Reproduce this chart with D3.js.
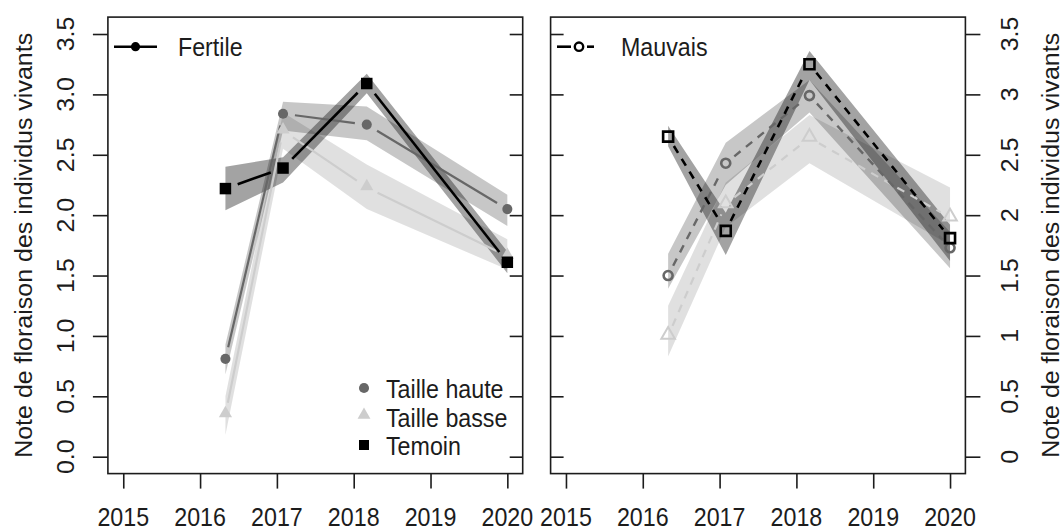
<!DOCTYPE html>
<html><head><meta charset="utf-8">
<script src="https://cdn.jsdelivr.net/npm/d3@7"></script>
<style>
body{margin:0;background:#fff}
svg{display:block}
text{font-family:"Liberation Sans",Arial,sans-serif;fill:#1c1c1c}
</style>
</head><body><svg id="c" width="1064" height="530"></svg>
<script>
// ---------- data ----------
const years = [2015, 2016, 2017, 2018, 2019, 2020];
const sampleDates = [2016.33, 2017.08, 2018.17, 2020.0];
const yTicks = [0, 0.5, 1, 1.5, 2, 2.5, 3, 3.5];
const yTickLabelsLeft = ["0.0", "0.5", "1.0", "1.5", "2.0", "2.5", "3.0", "3.5"];
const yTickLabelsRight = ["0", "0.5", "1", "1.5", "2", "2.5", "3", "3.5"];
const treatments = ["Taille haute", "Taille basse", "Temoin"];
const yTitle = "Note de floraison des individus vivants";

// Fertile panel
const fertileHaute   = [0.81, 2.84, 2.75, 2.05];
const fertileHauteLo = [0.68, 2.70, 2.62, 1.91];
const fertileHauteHi = [0.93, 2.94, 2.90, 2.17];
const fertileBasse   = [0.35, 2.70, 2.23, 1.66];
const fertileBasseLo = [0.18, 2.55, 2.05, 1.55];
const fertileBasseHi = [0.50, 2.85, 2.42, 1.80];
const fertileTemoin   = [2.22, 2.39, 3.09, 1.61];
const fertileTemoinLo = [2.04, 2.27, 3.01, 1.52];
const fertileTemoinHi = [2.40, 2.48, 3.17, 1.70];

// Mauvais panel
const mauvaisHaute   = [1.50, 2.43, 2.99, 1.73];
const mauvaisHauteLo = [1.39, 2.25, 2.85, 1.56];
const mauvaisHauteHi = [1.68, 2.60, 3.12, 1.86];
const mauvaisBasse   = [1.00, 2.09, 2.64, 1.98];
const mauvaisBasseLo = [0.83, 1.90, 2.43, 1.75];
const mauvaisBasseHi = [1.25, 2.27, 2.83, 2.23];
const mauvaisTemoin   = [2.65, 1.87, 3.25, 1.81];
const mauvaisTemoinLo = [2.57, 1.67, 3.12, 1.62];
const mauvaisTemoinHi = [2.74, 2.02, 3.36, 1.92];

// ---------- layout ----------
const svg = d3.select("#c");
const FS = 25, SQ = 0.93;
const plotTop = 17.1, plotBottom = 473.6;
const y = d3.scaleLinear().domain([-0.14, 3.64]).range([plotBottom, plotTop]);
const xL = d3.scaleLinear().domain([2014.8, 2020.2]).range([107.9, 522.7]);
const xR = d3.scaleLinear().domain([2014.8, 2020.2]).range([550.6, 965.4]);

const colHaute = "#676767", colBasse = "#cdcdcd", colTem = "#000";
const bandStyle = {
  haute: {fill: "#000", op: 0.22},
  basse: {fill: "#000", op: 0.12},
  temoin: {fill: "#000", op: 0.36}
};

function txt(g, x, yy, s, anchor, rot) {
  return g.append("text")
    .attr("transform", `translate(${x},${yy}) scale(${SQ},1)` + (rot ? ` rotate(${rot})` : ""))
    .attr("text-anchor", anchor || "start")
    .attr("font-size", FS)
    .text(s);
}

function band(x, lo, hi, st) {
  const data = sampleDates.map((d, i) => ({d, lo: lo[i], hi: hi[i]}));
  svg.append("path")
    .attr("d", d3.area().x(p => x(p.d)).y0(p => y(p.lo)).y1(p => y(p.hi))(data))
    .attr("fill", st.fill).attr("fill-opacity", st.op);
}

function gappedLine(x, vals, color, width, dash, gap) {
  const pts = sampleDates.map((d, i) => [x(d), y(vals[i])]);
  for (let i = 0; i < pts.length - 1; i++) {
    const [x1, y1] = pts[i], [x2, y2] = pts[i + 1];
    const L = Math.hypot(x2 - x1, y2 - y1);
    if (L <= 2 * gap) continue;
    const ux = (x2 - x1) / L, uy = (y2 - y1) / L;
    svg.append("line")
      .attr("x1", x1 + ux * gap).attr("y1", y1 + uy * gap)
      .attr("x2", x2 - ux * gap).attr("y2", y2 - uy * gap)
      .attr("stroke", color).attr("stroke-width", width)
      .attr("stroke-dasharray", dash || null);
  }
}

function markers(x, vals, type, color, open) {
  const sym = {circle: d3.symbolCircle, triangle: d3.symbolTriangle, square: d3.symbolSquare}[type];
  const size = open ? {circle: 64, triangle: 80, square: 100}[type] : {circle: 80, triangle: 75, square: 132}[type];
  sampleDates.forEach((d, i) => {
    const ty = type === "triangle" ? -1 : 0;
    svg.append("path")
      .attr("transform", `translate(${x(d)},${y(vals[i]) + ty})`)
      .attr("d", d3.symbol().type(sym).size(size)())
      .attr("fill", open ? "none" : color)
      .attr("stroke", open ? color : "none")
      .attr("stroke-width", open ? (type === "triangle" ? 2 : 2.6) : 0);
  });
}

// ---------- Fertile panel ----------
band(xL, fertileBasseLo, fertileBasseHi, bandStyle.basse);
band(xL, fertileHauteLo, fertileHauteHi, bandStyle.haute);
band(xL, fertileTemoinLo, fertileTemoinHi, bandStyle.temoin);
gappedLine(xL, fertileBasse, colBasse, 2.2, null, 12);
gappedLine(xL, fertileHaute, colHaute, 2.2, null, 12);
gappedLine(xL, fertileTemoin, colTem, 2.6, null, 13);
markers(xL, fertileBasse, "triangle", colBasse, false);
markers(xL, fertileHaute, "circle", colHaute, false);
markers(xL, fertileTemoin, "square", colTem, false);

// ---------- Mauvais panel ----------
band(xR, mauvaisBasseLo, mauvaisBasseHi, bandStyle.basse);
band(xR, mauvaisHauteLo, mauvaisHauteHi, bandStyle.haute);
band(xR, mauvaisTemoinLo, mauvaisTemoinHi, bandStyle.temoin);
gappedLine(xR, mauvaisBasse, colBasse, 2.2, "8,7", 11);
gappedLine(xR, mauvaisHaute, colHaute, 2.4, "8,7", 11);
gappedLine(xR, mauvaisTemoin, colTem, 2.6, "8,7", 11);
markers(xR, mauvaisBasse, "triangle", colBasse, true);
markers(xR, mauvaisHaute, "circle", colHaute, true);
markers(xR, mauvaisTemoin, "square", colTem, true);

// ---------- boxes & axes ----------
function styleAxis(g) {
  g.select(".domain").remove();
  g.selectAll("line").attr("stroke", "#1c1c1c").attr("stroke-width", 1.6);
  g.selectAll("text").remove();
}
[xL, xR].forEach(x => {
  svg.append("rect")
    .attr("x", x.range()[0]).attr("y", plotTop)
    .attr("width", x.range()[1] - x.range()[0]).attr("height", plotBottom - plotTop)
    .attr("fill", "none").attr("stroke", "#1c1c1c").attr("stroke-width", 1.6);
  svg.append("g").attr("transform", `translate(0,${plotBottom})`)
    .call(d3.axisBottom(x).tickValues(years).tickSize(15).tickFormat(""))
    .call(styleAxis);
  const lab = svg.append("g");
  years.forEach(yr => txt(lab, x(yr), 526, String(yr), "middle"));
});

// Left panel: outer left ticks, inner right ticks
svg.append("g").attr("transform", `translate(${xL.range()[0]},0)`)
  .call(d3.axisLeft(y).tickValues(yTicks).tickSize(15).tickFormat("")).call(styleAxis);
svg.append("g").attr("transform", `translate(${xL.range()[1]},0)`)
  .call(d3.axisLeft(y).tickValues(yTicks).tickSize(13).tickFormat("")).call(styleAxis);
// Right panel: inner left ticks, outer right ticks
svg.append("g").attr("transform", `translate(${xR.range()[0]},0)`)
  .call(d3.axisRight(y).tickValues(yTicks).tickSize(13).tickFormat("")).call(styleAxis);
svg.append("g").attr("transform", `translate(${xR.range()[1]},0)`)
  .call(d3.axisRight(y).tickValues(yTicks).tickSize(15).tickFormat("")).call(styleAxis);

const labs = svg.append("g");
yTicks.forEach((t, i) => {
  txt(labs, 74, y(t), yTickLabelsLeft[i], "middle", -90);
  txt(labs, 1018, y(t), yTickLabelsRight[i], "middle", -90);
});
txt(labs, 32, (plotTop + plotBottom) / 2, yTitle, "middle", -90);
txt(labs, 1059, (plotTop + plotBottom) / 2, yTitle, "middle", -90);

// ---------- legends ----------
const lg = svg.append("g");
lg.append("line").attr("x1", 114).attr("x2", 157).attr("y1", 46.7).attr("y2", 46.7)
  .attr("stroke", "#000").attr("stroke-width", 2.6);
lg.append("circle").attr("cx", 135.5).attr("cy", 46.7).attr("r", 4.6).attr("fill", "#000");
txt(lg, 178, 56, "Fertile");

[[557, 571], [587, 594]].forEach(([a, b]) =>
  lg.append("line").attr("x1", a).attr("x2", b).attr("y1", 46.7).attr("y2", 46.7)
    .attr("stroke", "#000").attr("stroke-width", 2.6));
lg.append("circle").attr("cx", 579).attr("cy", 46.7).attr("r", 4.2)
  .attr("fill", "#fff").attr("stroke", "#000").attr("stroke-width", 2.4);
txt(lg, 621, 56, "Mauvais");

const legSym = [d3.symbolCircle, d3.symbolTriangle, d3.symbolSquare];
const legCol = [colHaute, colBasse, colTem];
const legSize = [80, 72, 100];
const legY = [388, 415, 445];
const legBase = [398, 427, 455];
treatments.forEach((t, i) => {
  lg.append("path").attr("transform", `translate(364,${legY[i]})`)
    .attr("d", d3.symbol().type(legSym[i]).size(legSize[i])()).attr("fill", legCol[i]);
  txt(lg, 386, legBase[i], t);
});
</script>
</body></html>
